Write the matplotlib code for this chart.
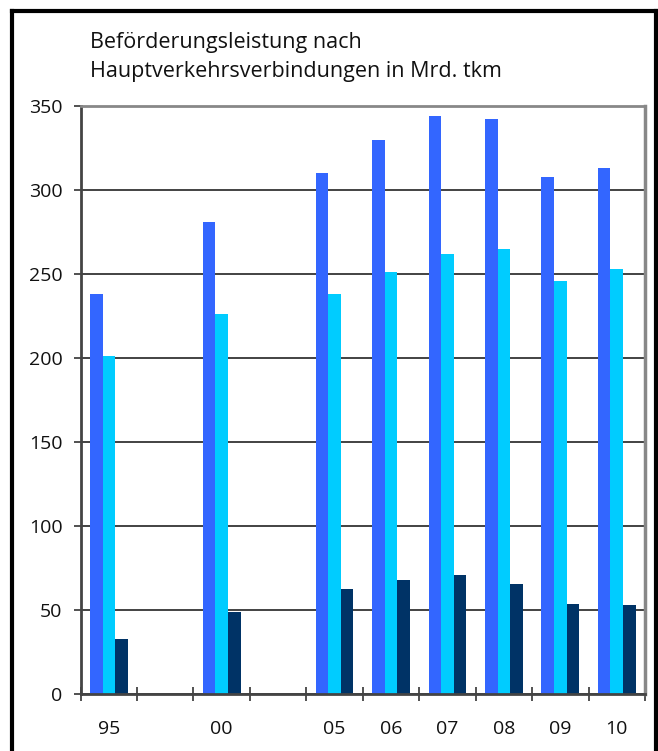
import matplotlib
matplotlib.use("Agg")
import matplotlib.pyplot as plt
import numpy as np
from matplotlib.lines import Line2D

# Data
categories = ['95', '', '00', '', '05', '06', '07', '08', '09', '10']
years = ['95', '00', '05', '06', '07', '08', '09', '10']
series_a = [238, 281, 310, 330, 344, 342, 308, 313]
series_b = [201, 226, 238, 251, 262, 265, 246, 253]
series_c = [33, 49, 62.5, 68, 71, 65.5, 53.5, 53]
yticks = [0, 50, 100, 150, 200, 250, 300, 350]
title = "Beförderungsleistung nach\nHauptverkehrsverbindungen in Mrd. tkm"

colors = ['#3366FF', '#00CCFF', '#003366']

plt.rcParams['font.family'] = ['Open Sans', 'DejaVu Sans']

W, H = 658, 751
fig = plt.figure(figsize=(W / 100, H / 100), dpi=100)
ax = fig.add_axes([80.6 / W, 1 - 694 / H, (645 - 80.6) / W, (694 - 106) / H])

pos = np.array([categories.index(y) for y in years])
bw = 0.223
for i, (vals, c) in enumerate(zip([series_a, series_b, series_c], colors)):
    ax.bar(pos + (i - 1) * bw, vals, width=bw, color=c, linewidth=0, zorder=2)

ax.set_xlim(-0.5, len(categories) - 0.5)
ax.set_ylim(0, 350)
ax.set_yticks(yticks)
ax.set_yticklabels([str(v) for v in yticks])
ax.yaxis.grid(True, color='#222222', linewidth=1.2, zorder=1)
ax.set_axisbelow(True)

ax.set_xticks(pos)
ax.set_xticklabels(years)
ax.set_xticks(np.arange(-0.5, len(categories), 1.0), minor=True)
ax.tick_params(axis='x', which='major', length=0, pad=19, labelsize=14, colors='#111111')
ax.tick_params(axis='x', which='minor', direction='inout', length=10, width=1.2, color='#333333')
ax.tick_params(axis='y', which='major', direction='out', length=5, width=1.2, pad=8,
               labelsize=14, color='#333333', labelcolor='#111111')

ax.spines['top'].set_color('#888888')
ax.spines['top'].set_linewidth(2)
ax.spines['right'].set_color('#888888')
ax.spines['right'].set_linewidth(2.5)
ax.spines['left'].set_color('#444444')
ax.spines['left'].set_linewidth(2)
ax.spines['bottom'].set_color('#444444')
ax.spines['bottom'].set_linewidth(2)

fig.text(90 / W, 1 - 32 / H, title, ha='left', va='top', fontsize=15.5,
         color='#111111', linespacing=1.5)

# Figure border
lw = 3
fig.add_artist(Line2D([11.5 / W, 11.5 / W], [-0.01, 1 - 10.5 / H], transform=fig.transFigure,
                      color='black', linewidth=lw, solid_capstyle='projecting'))
fig.add_artist(Line2D([11.5 / W, 655.5 / W], [1 - 10.5 / H, 1 - 10.5 / H], transform=fig.transFigure,
                      color='black', linewidth=lw, solid_capstyle='projecting'))
fig.add_artist(Line2D([655.5 / W, 655.5 / W], [-0.01, 1 - 10.5 / H], transform=fig.transFigure,
                      color='black', linewidth=lw, solid_capstyle='projecting'))

fig.savefig('out.png', dpi=100)
